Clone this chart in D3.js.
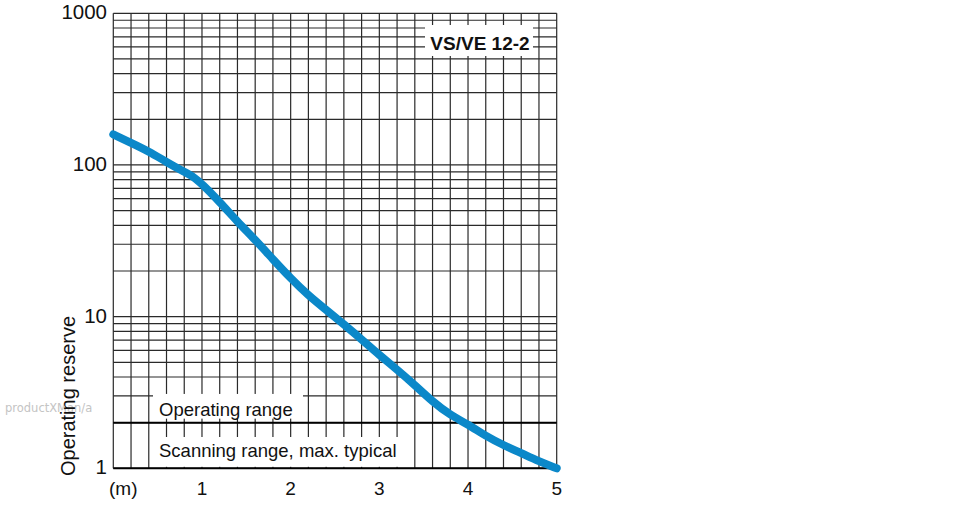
<!DOCTYPE html>
<html>
<head>
<meta charset="utf-8">
<script src="https://cdn.jsdelivr.net/npm/d3@7"></script>
<style>
  html, body { margin: 0; padding: 0; background: #fff; }
  svg { display: block; }
  text { font-family: "Liberation Sans", Arial, sans-serif; fill: #111; }
</style>
</head>
<body>
<svg id="chart" width="970" height="520"></svg>
<script>
// ---- data ----
const distance = [0, 0.2, 0.4, 0.6, 0.8, 0.9, 1.0, 1.2, 1.4, 1.6, 1.8, 2.0, 2.2, 2.4, 2.6, 2.8, 3.0, 3.2, 3.4, 3.6, 3.8, 4.0, 4.2, 4.4, 4.6, 4.8, 5.0];
const reserve  = [159, 140, 123, 104.5, 90, 84, 75, 57, 42.3, 32.1, 23.9, 17.9, 13.8, 11.1, 8.9, 7.07, 5.58, 4.48, 3.54, 2.75, 2.24, 1.95, 1.63, 1.42, 1.26, 1.11, 1.0];
const xTickLabels = ["1", "2", "3", "4", "5"];
const xTickValues = [1, 2, 3, 4, 5];
const yTickLabels = ["1", "10", "100", "1000"];
const yTickValues = [1, 10, 100, 1000];
const xGridStep = 0.2;
const thresholdValue = 2;
const productLabel = "VS/VE 12-2";
const yAxisTitle = "Operating reserve";
const xUnitLabel = "(m)";
const operatingLabel = "Operating range";
const scanningLabel = "Scanning range, max. typical";
const watermark = "productXMan/a";

// ---- layout ----
const svg = d3.select("#chart");
const pL = 113.3, pR = 556.7, pT = 13.3, pB = 468.3;
const x = d3.scaleLinear().domain([0, 5]).range([pL, pR]);
const y = d3.scaleLog().domain([1, 1000]).range([pB, pT]);

const gridColor = "#2a2a2a";

// vertical grid
const xGrid = d3.range(0, 5 + 1e-9, xGridStep);
svg.append("g").selectAll("line").data(xGrid).join("line")
  .attr("x1", d => x(d)).attr("x2", d => x(d))
  .attr("y1", pT).attr("y2", pB)
  .attr("stroke", gridColor).attr("stroke-width", 1.2);

// horizontal log grid
const yGrid = [];
[1, 10, 100].forEach(dec => { for (let m = 1; m <= 9; m++) yGrid.push(dec * m); });
yGrid.push(1000);
svg.append("g").selectAll("line").data(yGrid).join("line")
  .attr("x1", pL).attr("x2", pR)
  .attr("y1", d => y(d)).attr("y2", d => y(d))
  .attr("stroke", gridColor).attr("stroke-width", 1.2);

// white label boxes that interrupt the grid
const boxes = svg.append("g");
boxes.append("rect") // product label
  .attr("x", 425).attr("y", 25).attr("width", 108).attr("height", 31).attr("fill", "#fff");
boxes.append("rect") // operating range
  .attr("x", 153).attr("y", y(3) - 2).attr("width", 150).attr("height", y(2) - y(3) - 2).attr("fill", "#fff");
boxes.append("rect") // scanning range
  .attr("x", 153).attr("y", 437).attr("width", 246).attr("height", y(1) - 437 - 1.5).attr("fill", "#fff");

// threshold line at 2 and bottom axis line
svg.append("line")
  .attr("x1", pL).attr("x2", pR).attr("y1", y(thresholdValue)).attr("y2", y(thresholdValue))
  .attr("stroke", "#000").attr("stroke-width", 2);
svg.append("line")
  .attr("x1", pL).attr("x2", pR).attr("y1", y(1)).attr("y2", y(1))
  .attr("stroke", "#000").attr("stroke-width", 2);

// curve
const line = d3.line()
  .x((d, i) => x(distance[i]))
  .y((d, i) => y(reserve[i]))
  .curve(d3.curveBasis);
svg.append("path")
  .datum(reserve)
  .attr("d", line)
  .attr("fill", "none")
  .attr("stroke", "#0b88c9")
  .attr("stroke-width", 8)
  .attr("stroke-linecap", "round")
  .attr("stroke-linejoin", "round");

// y tick labels
svg.append("g").selectAll("text").data(yTickValues).join("text")
  .attr("x", 107).attr("y", d => y(d) + 6)
  .attr("text-anchor", "end")
  .style("font-size", "20.5px")
  .text((d, i) => yTickLabels[i]);

// x tick labels
svg.append("g").selectAll("text").data(xTickValues).join("text")
  .attr("x", d => x(d)).attr("y", 495)
  .attr("text-anchor", "middle")
  .style("font-size", "19px")
  .text((d, i) => xTickLabels[i]);
svg.append("text")
  .attr("x", x(0) + 10).attr("y", 495)
  .attr("text-anchor", "middle")
  .style("font-size", "19px")
  .text(xUnitLabel);

// watermark
svg.append("text")
  .attr("x", 5).attr("y", 412)
  .style("font-family", "'DejaVu Sans', sans-serif")
  .style("font-size", "11.5px")
  .style("fill", "#c4c4c4")
  .text(watermark);

// y axis title
svg.append("text")
  .attr("transform", "translate(75,396) rotate(-90)")
  .attr("text-anchor", "middle")
  .style("font-size", "20px")
  .text(yAxisTitle);

// range labels
svg.append("text")
  .attr("x", 159).attr("y", 416)
  .style("font-size", "18.5px")
  .text(operatingLabel);
svg.append("text")
  .attr("x", 159).attr("y", 457)
  .style("font-size", "18.5px")
  .text(scanningLabel);

// product label
svg.append("text")
  .attr("x", 480).attr("y", 50)
  .attr("text-anchor", "middle")
  .style("font-size", "19px")
  .style("font-weight", "bold")
  .text(productLabel);
</script>
</body>
</html>
